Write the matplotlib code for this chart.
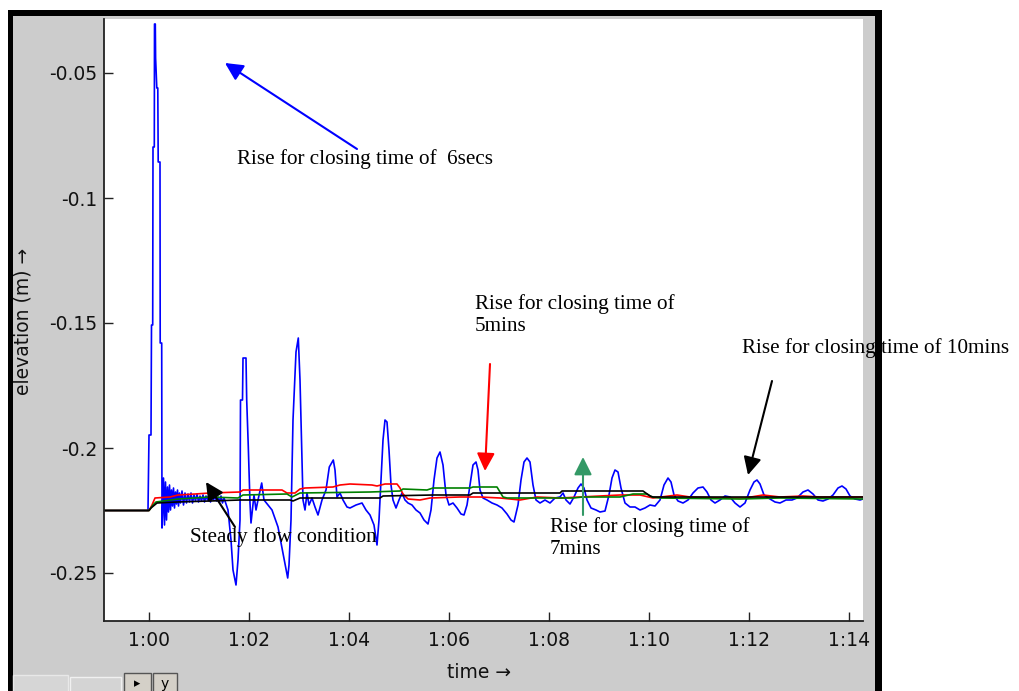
import matplotlib.pyplot as plt
from matplotlib.patches import Rectangle

# time is in minutes after 1:00, elevation in metres
blue_t = [-0.90, -0.04, -0.02, 0.00, 0.04, 0.05, 0.074, 0.08, 0.106, 0.11, 0.126, 0.132,
          0.156, 0.176, 0.184, 0.22, 0.224, 0.254, 0.26,
          0.27, 0.29, 0.31, 0.33, 0.35, 0.37, 0.39, 0.41, 0.43, 0.45, 0.47, 0.49, 0.51, 0.53,
          0.55, 0.57, 0.59, 0.61, 0.63, 0.66, 0.69, 0.72, 0.75, 0.78, 0.81, 0.84, 0.87, 0.90,
          0.93, 0.96, 0.99, 1.02, 1.05, 1.08, 1.11, 1.14, 1.17, 1.20, 1.23, 1.26, 1.29, 1.32,
          1.35, 1.38, 1.41, 1.44, 1.47, 1.50, 1.54, 1.58, 1.64, 1.68, 1.74, 1.78, 1.82, 1.83,
          1.87, 1.88, 1.94, 1.954, 1.986, 2.02, 2.04, 2.10, 2.14, 2.18, 2.254, 2.30, 2.38, 2.46,
          2.58, 2.68, 2.774, 2.80, 2.84, 2.88, 2.94, 2.986, 3.02, 3.054, 3.08, 3.12, 3.16, 3.20,
          3.26, 3.32, 3.38, 3.46, 3.54, 3.606, 3.686, 3.72, 3.76, 3.82, 3.88, 3.96, 4.02, 4.14,
          4.26, 4.34, 4.42, 4.50, 4.56, 4.60, 4.64, 4.68, 4.72, 4.76, 4.80, 4.84, 4.88, 4.94,
          5.00, 5.06, 5.12, 5.18, 5.26, 5.34, 5.42, 5.50, 5.58, 5.64, 5.70, 5.76, 5.82, 5.88,
          5.94, 6.00, 6.08, 6.16, 6.24, 6.30, 6.36, 6.42, 6.48, 6.54, 6.58, 6.62, 6.68, 6.76,
          6.86, 6.96, 7.06, 7.16, 7.24, 7.30, 7.38, 7.44, 7.50, 7.56, 7.62, 7.68, 7.74, 7.82,
          7.92, 8.02, 8.12, 8.22, 8.28, 8.34, 8.42, 8.50, 8.58, 8.64, 8.70, 8.76, 8.84, 8.94,
          9.02, 9.12, 9.20, 9.26, 9.32, 9.38, 9.44, 9.52, 9.62, 9.72, 9.82, 9.92, 10.02, 10.12,
          10.22, 10.30, 10.38, 10.44, 10.50, 10.58, 10.68, 10.78, 10.88, 10.98, 11.08, 11.16,
          11.24, 11.32, 11.42, 11.52, 11.62, 11.72, 11.82, 11.92, 12.02, 12.10, 12.16, 12.22,
          12.30, 12.42, 12.52, 12.62, 12.74, 12.86, 12.96, 13.08, 13.18, 13.28, 13.38, 13.48,
          13.58, 13.68, 13.78, 13.86, 13.94, 14.02, 14.12, 14.22, 14.28]
blue_e = [-0.225, -0.225, -0.225, -0.1948, -0.1948, -0.1508, -0.1508, -0.0796, -0.0796, -0.0304,
          -0.0304, -0.044, -0.056, -0.056, -0.0856, -0.0856, -0.158, -0.158, -0.232,
          -0.2268, -0.212, -0.2308, -0.2136, -0.2288, -0.2156, -0.2256, -0.2148, -0.2248,
          -0.2168, -0.2232, -0.216, -0.224, -0.2176, -0.2224, -0.2168, -0.2232, -0.218, -0.222,
          -0.2172, -0.2228, -0.218, -0.222, -0.2184, -0.2216, -0.218, -0.222, -0.2188, -0.2212,
          -0.2184, -0.2216, -0.2192, -0.2212, -0.2188, -0.2216, -0.2192, -0.2208, -0.2188,
          -0.2216, -0.2196, -0.2208, -0.2192, -0.2212, -0.2196, -0.2216, -0.2192, -0.222, -0.22,
          -0.2224, -0.2248, -0.2368, -0.2488, -0.2548, -0.2448, -0.2288, -0.1808, -0.1808,
          -0.164, -0.164, -0.1808, -0.1996, -0.222, -0.230, -0.2188, -0.2248, -0.2208, -0.214,
          -0.2208, -0.2228, -0.2248, -0.2316, -0.242, -0.252, -0.2468, -0.2288, -0.1888,
          -0.1616, -0.156, -0.1728, -0.1996, -0.2208, -0.2248, -0.218, -0.2228, -0.22, -0.2236,
          -0.2268, -0.2208, -0.2168, -0.2076, -0.2048, -0.2088, -0.2196, -0.218, -0.2208,
          -0.2236, -0.224, -0.2228, -0.222, -0.2248, -0.2268, -0.2308, -0.2388, -0.2288,
          -0.2128, -0.1968, -0.1888, -0.1896, -0.2008, -0.2148, -0.2208, -0.224, -0.2208,
          -0.218, -0.2208, -0.222, -0.2228, -0.2248, -0.226, -0.2288, -0.2304, -0.2248,
          -0.2128, -0.204, -0.2016, -0.2068, -0.2188, -0.2228, -0.222, -0.224, -0.2264,
          -0.2268, -0.2228, -0.2148, -0.2068, -0.2056, -0.2088, -0.2168, -0.22, -0.2208,
          -0.222, -0.2228, -0.224, -0.2264, -0.2288, -0.2296, -0.2228, -0.2128, -0.2056,
          -0.204, -0.2056, -0.2148, -0.2208, -0.222, -0.2208, -0.222, -0.22, -0.2196, -0.218,
          -0.2208, -0.2224, -0.2196, -0.216, -0.2144, -0.216, -0.2208, -0.224, -0.2248,
          -0.2256, -0.2252, -0.2188, -0.212, -0.2088, -0.2096, -0.216, -0.222, -0.2236,
          -0.2236, -0.2248, -0.224, -0.2228, -0.2232, -0.2208, -0.2148, -0.212, -0.2136,
          -0.2188, -0.2212, -0.222, -0.2208, -0.218, -0.216, -0.2156, -0.2176, -0.2208,
          -0.222, -0.2208, -0.2192, -0.2196, -0.222, -0.2236, -0.222, -0.2168, -0.2136,
          -0.2128, -0.2144, -0.2188, -0.2204, -0.2216, -0.222, -0.2208, -0.2208, -0.22,
          -0.2176, -0.2168, -0.2184, -0.2208, -0.2212, -0.2204, -0.2188, -0.216, -0.2152,
          -0.2164, -0.2192, -0.2204, -0.2208, -0.2204]

red_t = [-0.90, 0.00, 0.06, 0.12, 0.42, 0.58, 0.92, 1.22, 1.82, 1.88, 2.66, 2.76, 2.92, 3.02,
         3.12, 3.68, 3.82, 4.02, 4.46, 4.56, 4.72, 4.96, 5.02, 5.08, 5.18, 5.42, 5.62, 6.22,
         6.62, 7.02, 7.42, 7.76, 8.22, 8.62, 9.42, 9.82, 10.08, 10.56, 10.82, 11.42, 11.92,
         12.28, 12.62, 13.08, 13.42, 14.28]
red_e = [-0.225, -0.225, -0.2228, -0.22, -0.2196, -0.2188, -0.2184, -0.218, -0.2176, -0.2168,
         -0.2168, -0.218, -0.218, -0.2164, -0.216, -0.2156, -0.2148, -0.2144, -0.2148, -0.2152,
         -0.2144, -0.2144, -0.216, -0.2184, -0.2204, -0.2208, -0.22, -0.2196, -0.2196, -0.22,
         -0.2208, -0.2196, -0.22, -0.2196, -0.2188, -0.2188, -0.22, -0.2188, -0.2196, -0.22,
         -0.22, -0.2188, -0.2196, -0.2192, -0.2196, -0.2196]

green_t = [-0.90, 0.00, 0.08, 0.14, 0.58, 1.22, 1.78, 1.88, 2.76, 2.86, 3.02, 4.42, 5.02, 5.08,
           5.56, 5.68, 6.42, 6.48, 6.96, 7.08, 7.16, 8.48, 8.68, 9.42, 9.68, 9.96, 10.06,
           10.22, 11.82, 12.62, 14.28]
green_e = [-0.225, -0.225, -0.2228, -0.2216, -0.2204, -0.2196, -0.22, -0.2188, -0.2184, -0.2196,
           -0.218, -0.2176, -0.2172, -0.2164, -0.2168, -0.216, -0.216, -0.2156, -0.2156,
           -0.2196, -0.22, -0.22, -0.2196, -0.2196, -0.2184, -0.2184, -0.2196, -0.22, -0.2204,
           -0.22, -0.2204]

black_t = [-0.90, 0.00, 0.04, 0.16, 0.56, 1.22, 1.82, 2.82, 2.88, 3.02, 4.62, 4.68, 5.68, 6.42,
           6.48, 8.22, 8.26, 9.88, 10.02, 10.08, 14.28]
black_e = [-0.225, -0.225, -0.224, -0.222, -0.2216, -0.2212, -0.2208, -0.2208, -0.2212, -0.22,
           -0.22, -0.2192, -0.2188, -0.2188, -0.218, -0.218, -0.2172, -0.2172, -0.2192, -0.2196,
           -0.2196]

x_ticks = [0, 2, 4, 6, 8, 10, 12, 14]
x_ticklabels = ['1:00', '1:02', '1:04', '1:06', '1:08', '1:10', '1:12', '1:14']
y_ticks = [-0.05, -0.1, -0.15, -0.2, -0.25]
y_ticklabels = ['-0.05', '-0.1', '-0.15', '-0.2', '-0.25']

W, H = 1019, 691
fig = plt.figure(figsize=(W / 100, H / 100), dpi=100, facecolor='white')


def px_rect(x0, y0, x1, y1, **kw):
    # rectangle given in screen pixels (top-left origin)
    return Rectangle((x0 / W, 1 - y1 / H), (x1 - x0) / W, (y1 - y0) / H,
                     transform=fig.transFigure, **kw)


# window frame: black border, grey panel (kept behind the axes)
fig.patches.append(px_rect(8, 10, 882, 700, facecolor='black', edgecolor='none', zorder=-3))
fig.patches.append(px_rect(13, 16, 875, 700, facecolor='#cccccc', edgecolor='none', zorder=-2))
# little widgets in the bottom-left corner
fig.patches.append(px_rect(13, 675, 68, 700, facecolor='#d6d6d6', edgecolor='#e8e8e8', lw=1, zorder=-1))
fig.patches.append(px_rect(70, 677, 121, 700, facecolor='#d4d4d4', edgecolor='#f0f0f0', lw=1, zorder=-1))
fig.patches.append(px_rect(124, 673, 151, 700, facecolor='#d4d0c8', edgecolor='#555555', lw=1, zorder=-1))
fig.patches.append(px_rect(153, 673, 177, 700, facecolor='#d4d0c8', edgecolor='#555555', lw=1, zorder=-1))
fig.text(137.5 / W, 1 - 684 / H, '\u25b8', ha='center', va='center', fontsize=9, color='black')
fig.text(165 / W, 1 - 684 / H, 'y', ha='center', va='center', fontsize=10, color='black')

ax = fig.add_axes([104 / W, 1 - 621 / H, 759 / W, 602 / H])
ax.set_facecolor('white')

ax.plot(blue_t, blue_e, color='#0000ff', lw=1.2)
ax.plot(red_t, red_e, color='#ff0000', lw=1.2)
ax.plot(green_t, green_e, color='#008000', lw=1.2)
ax.plot(black_t, black_e, color='black', lw=1.2)

ax.set_xlim(-0.9, 14.28)
ax.set_ylim(-0.2692, -0.0284)
ax.set_xticks(x_ticks)
ax.set_xticklabels(x_ticklabels)
ax.set_yticks(y_ticks)
ax.set_yticklabels(y_ticklabels)
ax.tick_params(direction='in', length=6.5, width=1, colors='#222222', labelsize=13.5,
               labelcolor='#111111')
ax.tick_params(axis='y', pad=5)
ax.tick_params(axis='x', pad=7)
for side in ['top', 'right']:
    ax.spines[side].set_visible(False)
for side in ['left', 'bottom']:
    ax.spines[side].set_color('#222222')
    ax.spines[side].set_linewidth(1.3)

ax.set_xlabel('time \u2192', fontsize=13.5, color='#111111')
ax.xaxis.set_label_coords(0.494, -0.07)
ax.set_ylabel('elevation (m) \u2192', fontsize=13.5, color='#111111')
ax.yaxis.set_label_coords(-0.094, 0.497)

# annotations (Times-like serif, drawn over the window frame)
serif = dict(family='Liberation Serif', fontsize=15.2, color='black')


def arrow(tip, tail, color):
    ax.annotate('', xy=tip, xytext=tail, annotation_clip=False,
                arrowprops=dict(arrowstyle='-|>,head_length=0.6,head_width=0.3',
                                mutation_scale=18, color=color, lw=1.5,
                                shrinkA=0, shrinkB=0))


ax.text(1.76, -0.0844, 'Rise for closing time of  6secs', ha='left', va='center',
        clip_on=False, **serif)
arrow((1.52, -0.046), (4.16, -0.0804), '#0000ff')

ax.text(6.52, -0.1468, 'Rise for closing time of\n5mins', ha='left', va='center',
        linespacing=1.25, clip_on=False, **serif)
arrow((6.72, -0.2092), (6.82, -0.1664), '#ff0000')

ax.text(8.02, -0.236, 'Rise for closing time of\n7mins', ha='left', va='center',
        linespacing=1.25, clip_on=False, **serif)
arrow((8.68, -0.2036), (8.68, -0.2268), '#339966')

ax.text(11.86, -0.16, 'Rise for closing time of 10mins', ha='left', va='center',
        clip_on=False, zorder=10, **serif)
arrow((11.98, -0.2108), (12.46, -0.1732), 'black')

ax.text(0.82, -0.2356, 'Steady flow condition', ha='left', va='center',
        clip_on=False, **serif)
arrow((1.14, -0.2136), (1.72, -0.2316), 'black')

fig.savefig('out.png', dpi=100, facecolor='white')
